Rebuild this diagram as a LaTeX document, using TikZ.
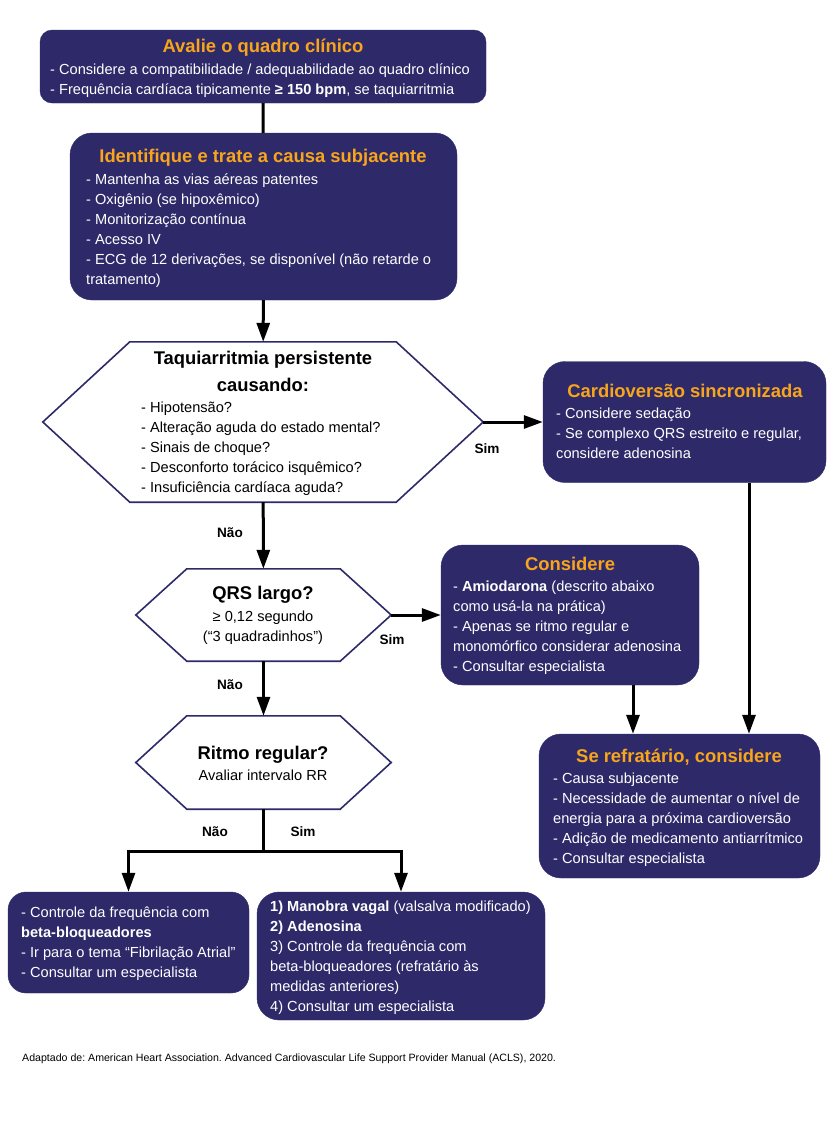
\documentclass[tikz,border=0pt]{standalone}
\usepackage{fontspec}
\setmainfont{Liberation Sans}
\usetikzlibrary{positioning, arrows.meta}
\frenchspacing

\definecolor{azulescuro}{HTML}{2E2A6A}
\definecolor{laranja}{HTML}{F8A51B}

% contorno hexagonal sobre um no retangular
\newcommand{\hexborda}[2]{%
  \draw[hexlinha] (#1.west) -- ([xshift=#2]#1.north west) -- ([xshift=-#2]#1.north east)
    -- (#1.east) -- ([xshift=-#2]#1.south east) -- ([xshift=#2]#1.south west) -- cycle;}

\begin{document}
\begin{tikzpicture}[
    x=1pt, y=-1pt,
    caixa/.style={draw=azulescuro, fill=azulescuro, rounded corners=22pt, inner sep=0},
    hexa/.style={inner sep=0},
    hexlinha/.style={draw=azulescuro, line width=1.6pt, fill=white},
    titulo/.style={font=\fontsize{18.4}{27}\selectfont\bfseries, text=laranja, anchor=north,
        inner sep=0, align=center, execute at begin node={\rule{0pt}{14pt}}},
    pergunta/.style={titulo, text=black},
    corpo/.style={font=\fontsize{14.6}{20}\selectfont, text=white, anchor=north west,
        inner sep=0, align=left, execute at begin node={\rule{0pt}{11pt}}},
    centro/.style={corpo, text=black, anchor=north, align=center},
    rotulo/.style={font=\fontsize{13.6}{16}\selectfont\bfseries, inner sep=0},
    linha/.style={line width=3pt},
    seta/.style={linha, -{Triangle[length=19pt, width=13pt]}}
]
    \fill[white] (0,0) rectangle (830,1133);
    \useasboundingbox (0,0) rectangle (830,1133);

    % Avaliacao inicial
    \node[caixa, rounded corners=12pt, minimum width=446pt, minimum height=73pt] (avalie) at (263,66.5) {};
    \node[titulo] (avalieT) at (263,38.6) {Avalie o quadro clínico};
    \node[corpo] (avalieC) at (50,63.2) {- Considere a compatibilidade / adequabilidade ao quadro clínico\\
        - Frequência cardíaca tipicamente \textbf{≥ 150 bpm}, se taquiarritmia};

    % Causa subjacente
    \node[caixa, minimum width=387pt, minimum height=167pt] (identif) at (263.5,216.5) {};
    \node[titulo] (identifT) at (263,148.6) {Identifique e trate a causa subjacente};
    \node[corpo] (identifC) at (86,173.2) {- Mantenha as vias aéreas patentes\\
        - Oxigênio (se hipoxêmico)\\
        - Monitorização contínua\\
        - Acesso IV\\
        - ECG de 12 derivações, se disponível (não retarde o\\
        tratamento)};

    % Decisao: instabilidade
    \node[hexa, minimum width=440pt, minimum height=160pt] (taqui) at (263,422) {};
    \hexborda{taqui}{87pt}
    \node[pergunta] (taquiT) at (263,350.6) {Taquiarritmia persistente\\causando:};
    \node[corpo, text=black] (taquiC) at (141,402.2) {- Hipotensão?\\
        - Alteração aguda do estado mental?\\
        - Sinais de choque?\\
        - Desconforto torácico isquêmico?\\
        - Insuficiência cardíaca aguda?};

    % Cardioversao
    \node[caixa, minimum width=283pt, minimum height=121pt] (cardio) at (684.5,422) {};
    \node[titulo] (cardioT) at (685,383.6) {Cardioversão sincronizada};
    \node[corpo] (cardioC) at (556,408.2) {- Considere sedação\\
        - Se complexo QRS estreito e regular,\\
        considere adenosina};

    % Decisao: QRS
    \node[hexa, minimum width=255pt, minimum height=92pt] (qrs) at (263.5,615) {};
    \hexborda{qrs}{51pt}
    \node[pergunta] (qrsT) at (263,585.6) {QRS largo?};
    \node[centro] (qrsC) at (263,611.2) {≥ 0,12 segundo\\(“3 quadradinhos”)};

    % QRS largo
    \node[caixa, minimum width=258pt, minimum height=140pt] (consid) at (570,615) {};
    \node[titulo] (considT) at (570,556.6) {Considere};
    \node[corpo] (considC) at (453,581.2) {- \textbf{Amiodarona} (descrito abaixo\\
        como usá-la na prática)\\
        - Apenas se ritmo regular e\\
        monomórfico considerar adenosina\\
        - Consultar especialista};

    % Refratario
    \node[caixa, minimum width=281pt, minimum height=144pt] (refr) at (679.5,806) {};
    \node[titulo] (refrT) at (679,748.6) {Se refratário, considere};
    \node[corpo] (refrC) at (553,773.2) {- Causa subjacente\\
        - Necessidade de aumentar o nível de\\
        energia para a próxima cardioversão\\
        - Adição de medicamento antiarrítmico\\
        - Consultar especialista};

    % Decisao: ritmo
    \node[hexa, minimum width=255pt, minimum height=93pt] (ritmo) at (263.5,762.5) {};
    \hexborda{ritmo}{51pt}
    \node[pergunta] (ritmoT) at (263,745.6) {Ritmo regular?};
    \node[centro] (ritmoC) at (263,769.2) {Avaliar intervalo RR};

    % Condutas finais
    \node[caixa, rounded corners=18pt, minimum width=241pt, minimum height=101pt] (controle) at (128.5,942.5) {};
    \node[corpo] (controleC) at (21,906.2) {- Controle da frequência com\\
        \textbf{beta-bloqueadores}\\
        - Ir para o tema “Fibrilação Atrial”\\
        - Consultar um especialista};
    \node[caixa, minimum width=288pt, minimum height=128pt] (manobra) at (401,956) {};
    \node[corpo] (manobraC) at (270,901.2) {\textbf{1) Manobra vagal} (valsalva modificado)\\
        \textbf{2) Adenosina}\\
        3) Controle da frequência com\\
        beta-bloqueadores (refratário às\\
        medidas anteriores)\\
        4) Consultar um especialista};

    % Conexoes
    \draw[linha] (avalie) -- (identif);
    \draw[seta] (identif) -- (taqui);
    \draw[seta] (taqui.east) -- (cardio.west);
    \draw[seta] (taqui) -- (qrs);
    \draw[seta] (qrs.east) -- (consid.west);
    \draw[seta] (qrs) -- (ritmo);
    \draw[seta] ([xshift=64.5pt]cardio.south) -- ([xshift=64.5pt]cardio.south |- refr.north);
    \draw[seta] ([xshift=63pt]consid.south) -- ([xshift=63pt]consid.south |- refr.north);
    \coordinate (ramo) at (263.5,851);
    \draw[linha] (ritmo.south) -- (ramo);
    \draw[seta] (ramo) -| (controle.north);
    \draw[seta] (ramo) -| (manobra.north);

    % Rotulos
    \node[rotulo] (sim1) at (487,449) {Sim};
    \node[rotulo] (nao1) at (230,533) {Não};
    \node[rotulo] (sim2) at (392,640) {Sim};
    \node[rotulo] (nao2) at (230,685) {Não};
    \node[rotulo] (nao3) at (215,832) {Não};
    \node[rotulo] (sim3) at (303,832) {Sim};

    % Fonte
    \node[font=\fontsize{10.6}{12}\selectfont, anchor=west, inner sep=0] (fonte) at (22,1059)
        {Adaptado de: American Heart Association. Advanced Cardiovascular Life Support Provider Manual (ACLS), 2020.};
\end{tikzpicture}
\end{document}
